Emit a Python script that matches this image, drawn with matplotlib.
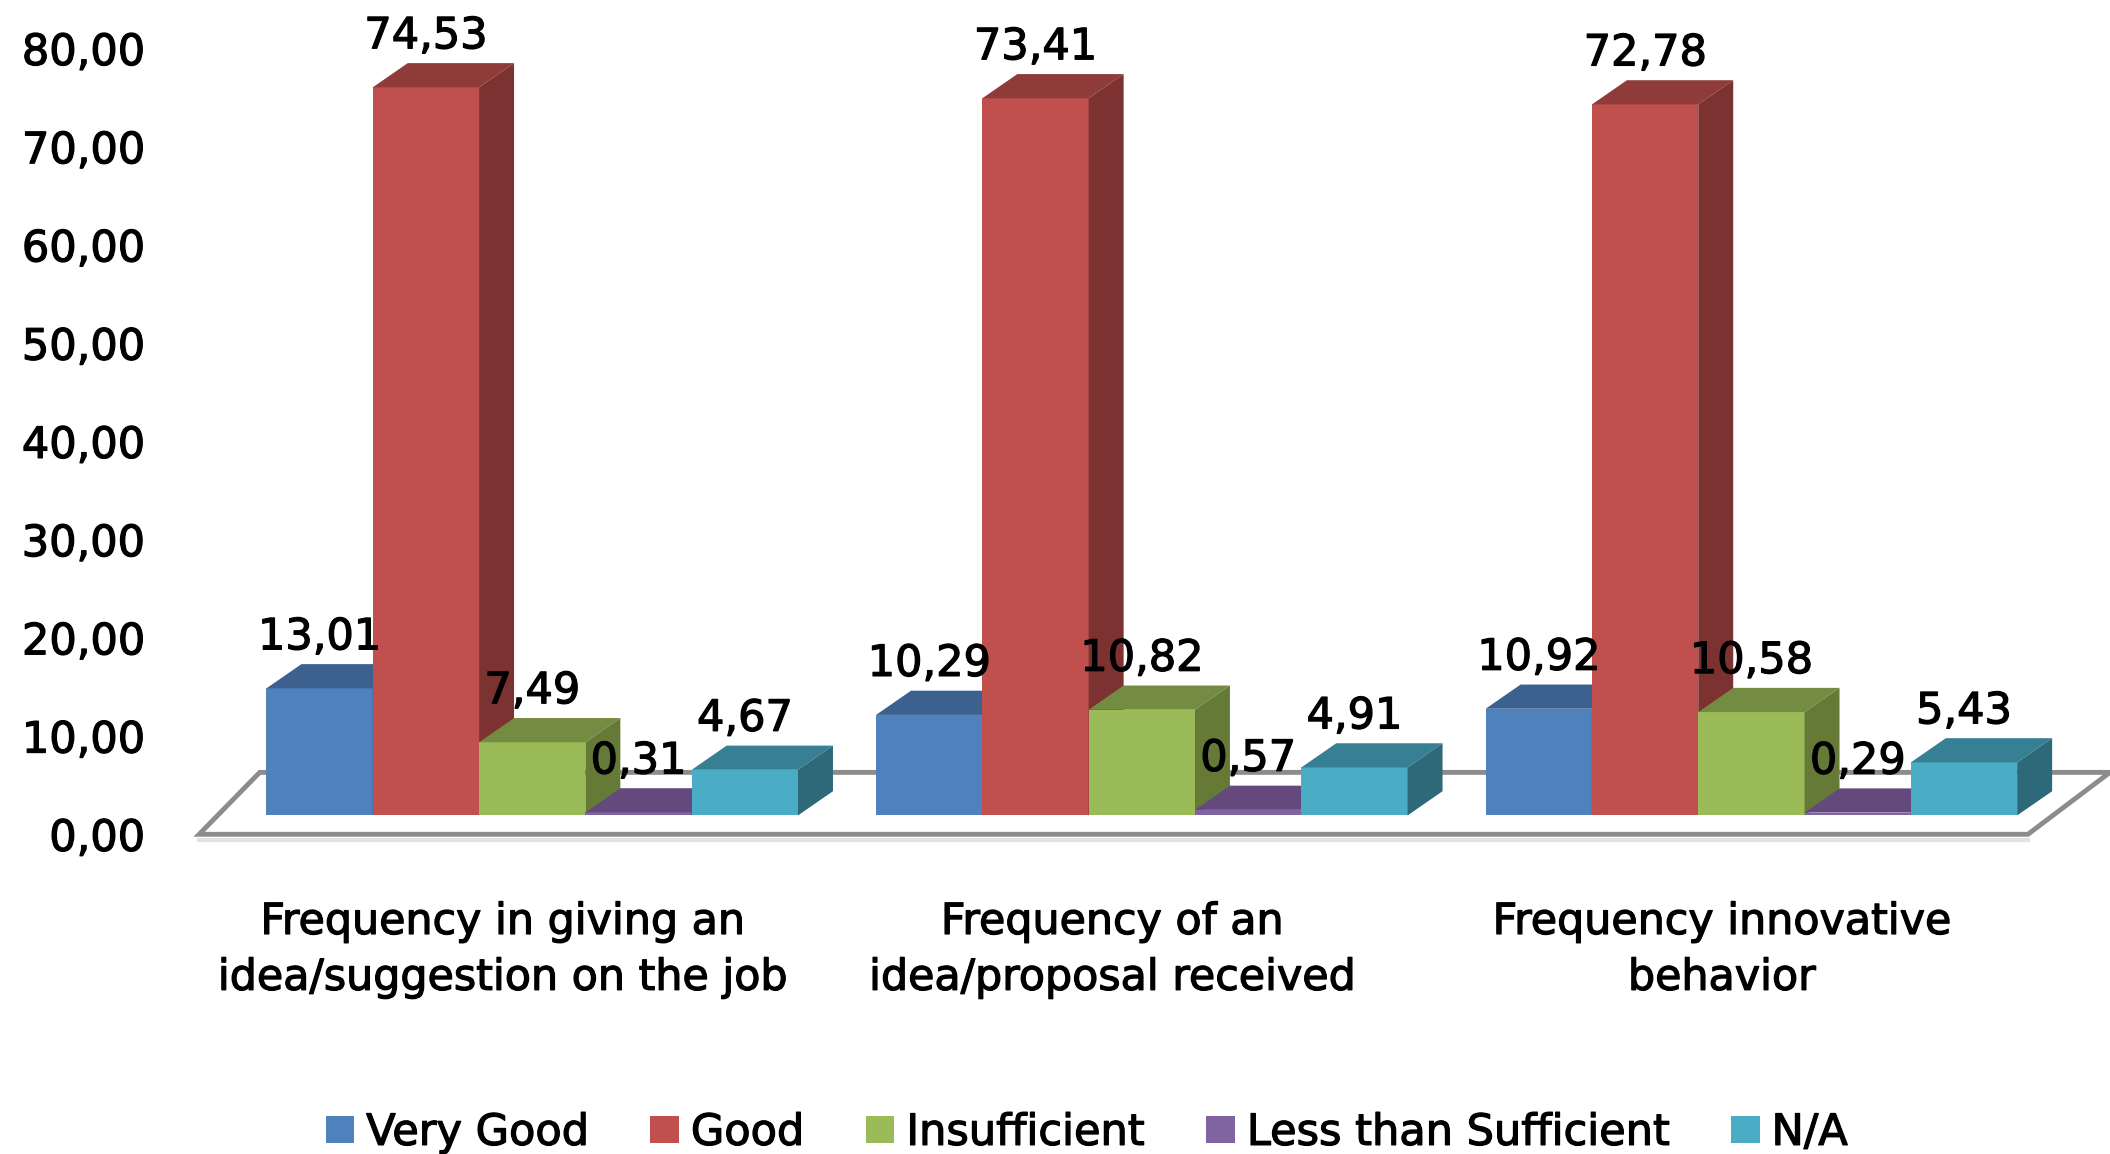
import matplotlib
matplotlib.use("Agg")
import matplotlib.pyplot as plt
import matplotlib.patheffects as pe
from matplotlib.patches import Polygon, Rectangle

categories = ["Frequency in giving an\nidea/suggestion on the job",
              "Frequency of an\nidea/proposal received",
              "Frequency innovative\nbehavior"]
series_names = ["Very Good", "Good", "Insufficient", "Less than Sufficient", "N/A"]
very_good = [13.01, 10.29, 10.92]
good = [74.53, 73.41, 72.78]
insufficient = [7.49, 10.82, 10.58]
less_than = [0.31, 0.57, 0.29]
na = [4.67, 4.91, 5.43]
series = [very_good, good, insufficient, less_than, na]
labels = [["13,01", "10,29", "10,92"], ["74,53", "73,41", "72,78"],
          ["7,49", "10,82", "10,58"], ["0,31", "0,57", "0,29"], ["4,67", "4,91", "5,43"]]
yticks = list(range(0, 90, 10))

front = ["#4F81BD", "#C0504D", "#9BBB59", "#8064A2", "#4BACC6"]
top = ["#3C618F", "#8F3B39", "#748C42", "#644A7C", "#378094"]
side = ["#2F4D73", "#7B3230", "#667A38", "#4E3D63", "#2D6979"]

W, H = 2110, 1154
fig = plt.figure(figsize=(W / 100, H / 100), dpi=100)
plt.rcParams['font.family'] = ['DejaVu Sans']
thick = [pe.withStroke(linewidth=0.9, foreground="black")]

left, right = 148, 1568
h = 857.6
group_px = 453.0
xcenter0 = 395.5
xlim = ((left - xcenter0) / group_px, (right - xcenter0) / group_px)

# value axis (labels): 0 at 620, 80 at 36
y0, y80 = 620, 36
ax_t = fig.add_axes([left / 1568, 1 - y0 / h, (right - left) / 1568, (y0 - y80) / h])
ax_t.set_xlim(*xlim)
ax_t.set_ylim(0, 80)
ax_t.patch.set_alpha(0)
for s in ax_t.spines.values():
    s.set_visible(False)
ax_t.set_yticks(yticks)
ax_t.set_yticklabels([f"{v:.2f}".replace(".", ",") for v in yticks], fontsize=31, color="black",
                     path_effects=thick)
ax_t.tick_params(axis="y", length=0, pad=39)
ax_t.set_xticks([g - 22 / group_px for g in range(3)])
ax_t.set_xticklabels(categories, fontsize=30.8, linespacing=1.42, color="black", path_effects=thick)
ax_t.tick_params(axis="x", length=0, pad=48)

# front plane of the bars: 0 at 606, 7.26 px per unit
ppu = 7.26
yb0 = 606
ax = fig.add_axes([left / 1568, 1 - yb0 / h, (right - left) / 1568, 80 * ppu / h])
ax.set_xlim(*xlim)
ax.set_ylim(0, 80)
ax.axis("off")

bw = 79 / group_px
dx = 26 / group_px
dy = 18 / ppu
lab_off = 11 / ppu

# floor
fl = [(left, -14), (1507, -14), (1568, 32), (193, 32)]
pts = [((x - xcenter0) / group_px, v / ppu) for x, v in fl]
shadow = [(x, y - 4.5 / ppu) for x, y in pts[:2]]
ax.plot(*zip(*shadow), color="#e2e2e2", lw=3, clip_on=False, zorder=0.5)
ax.add_patch(Polygon(pts, closed=True, facecolor="white", edgecolor="#8c8c8c", lw=3.5,
                     clip_on=False, zorder=1))

for g in range(3):
    for i, vals in enumerate(series):
        x0 = g + (i - 2.5) * bw
        v = vals[g]
        z = 3 + i
        ax.bar(x0, v, width=bw, align="edge", color=front[i], zorder=z, clip_on=False)
        ax.add_patch(Polygon([(x0, v), (x0 + bw, v), (x0 + bw + dx, v + dy), (x0 + dx, v + dy)],
                             closed=True, facecolor=top[i], edgecolor="none", zorder=z, clip_on=False))
        ax.add_patch(Polygon([(x0 + bw, 0), (x0 + bw + dx, dy), (x0 + bw + dx, v + dy), (x0 + bw, v)],
                             closed=True, facecolor=side[i], edgecolor="none", zorder=z, clip_on=False))
        ax.text(x0 + bw / 2, v + dy + lab_off, labels[i][g], ha="center", va="baseline",
                fontsize=31, color="black", zorder=20, clip_on=False, path_effects=thick)

handles = [Rectangle((0, 0), 1, 1, facecolor=c) for c in front]
leg = fig.legend(handles, series_names, loc="lower center", ncol=5, frameon=False, fontsize=31,
                 bbox_to_anchor=(0.515, -0.026), handlelength=0.66, handleheight=0.6,
                 columnspacing=1.44, handletextpad=0.28, labelcolor="black", borderpad=0.2)
for t in leg.get_texts():
    t.set_path_effects(thick)
fig.savefig("out.png", dpi=100)
